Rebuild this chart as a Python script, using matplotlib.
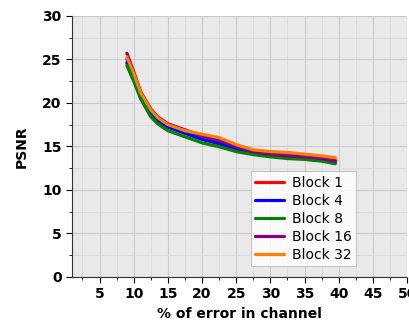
import matplotlib
matplotlib.use("Agg")
import matplotlib.pyplot as plt
from matplotlib.ticker import MultipleLocator

x = [9, 10, 11, 12.5, 13.5, 15, 17.5, 20, 22.5, 25, 27.5, 30, 32.5, 35, 37.5, 39.5]
block1 = [25.0, 23.2, 21.1, 19.1, 18.2, 17.4, 16.7, 16.2, 15.6, 14.9, 14.5, 14.2, 14.0, 13.9, 13.7, 13.4]
block4 = [24.6, 22.8, 20.9, 18.9, 18.0, 17.2, 16.5, 15.8, 15.3, 14.7, 14.3, 14.0, 13.8, 13.7, 13.5, 13.2]
block8 = [24.3, 22.5, 20.5, 18.4, 17.6, 16.8, 16.1, 15.4, 14.95, 14.4, 14.05, 13.8, 13.6, 13.5, 13.3, 13.0]
block16 = [25.7, 23.6, 21.3, 19.3, 18.4, 17.6, 16.9, 16.2, 15.7, 14.9, 14.4, 14.1, 13.9, 13.8, 13.6, 13.3]
block32 = [25.3, 23.4, 21.2, 19.2, 18.3, 17.5, 16.8, 16.4, 16.0, 15.2, 14.6, 14.4, 14.3, 14.1, 13.9, 13.7]

series = [("Block 1", block1, "#ff0000"),
          ("Block 4", block4, "#0000ff"),
          ("Block 8", block8, "#008000"),
          ("Block 16", block16, "#800080"),
          ("Block 32", block32, "#ff8000")]

fig = plt.figure(figsize=(4.1, 3.3), dpi=100)
ax = fig.add_axes([0.176, 0.161, 0.817, 0.791])
ax.set_facecolor("#e9e9e9")
for name, y, c in series:
    ax.plot(x, y, color=c, lw=2.3, label=name, solid_capstyle="round",
            solid_joinstyle="round")

ax.set_xlim(1, 50)
ax.set_ylim(0, 30)
ax.xaxis.set_major_locator(MultipleLocator(5))
ax.xaxis.set_minor_locator(MultipleLocator(2.5))
ax.yaxis.set_major_locator(MultipleLocator(5))
ax.yaxis.set_minor_locator(MultipleLocator(2.5))
ax.grid(which="major", color="#cbcbcb", lw=0.8)
ax.grid(which="minor", color="#dadada", lw=0.6)
ax.set_axisbelow(True)
ax.tick_params(which="major", direction="out", length=4, labelsize=10)
ax.tick_params(which="minor", direction="out", length=2)
for lab in ax.get_yticklabels():
    lab.set_fontweight("bold")
ax.set_xticks([5, 10, 15, 20, 25, 30, 35, 40, 45, 50])
ax.set_xticklabels(["5", "10", "15", "20", "25", "30", "35", "40", "45", "50"], fontweight="bold")
for s in ["top", "right"]:
    ax.spines[s].set_visible(False)
ax.spines["left"].set_color("#333333")
ax.spines["bottom"].set_color("#333333")
ax.set_xlabel("% of error in channel", fontweight="bold", fontsize=10)
ax.set_ylabel("PSNR", fontweight="bold", fontsize=10, labelpad=10)
leg = ax.legend(loc="lower right", bbox_to_anchor=(0.848, 0.04), fontsize=10,
                frameon=True, fancybox=False, handlelength=2.1, borderpad=0.3,
                labelspacing=0.3, handletextpad=0.6, borderaxespad=0.0)
leg.get_frame().set_edgecolor("#bbbbbb")
leg.get_frame().set_linewidth(0.8)
fig.savefig("out.png", dpi=100)
